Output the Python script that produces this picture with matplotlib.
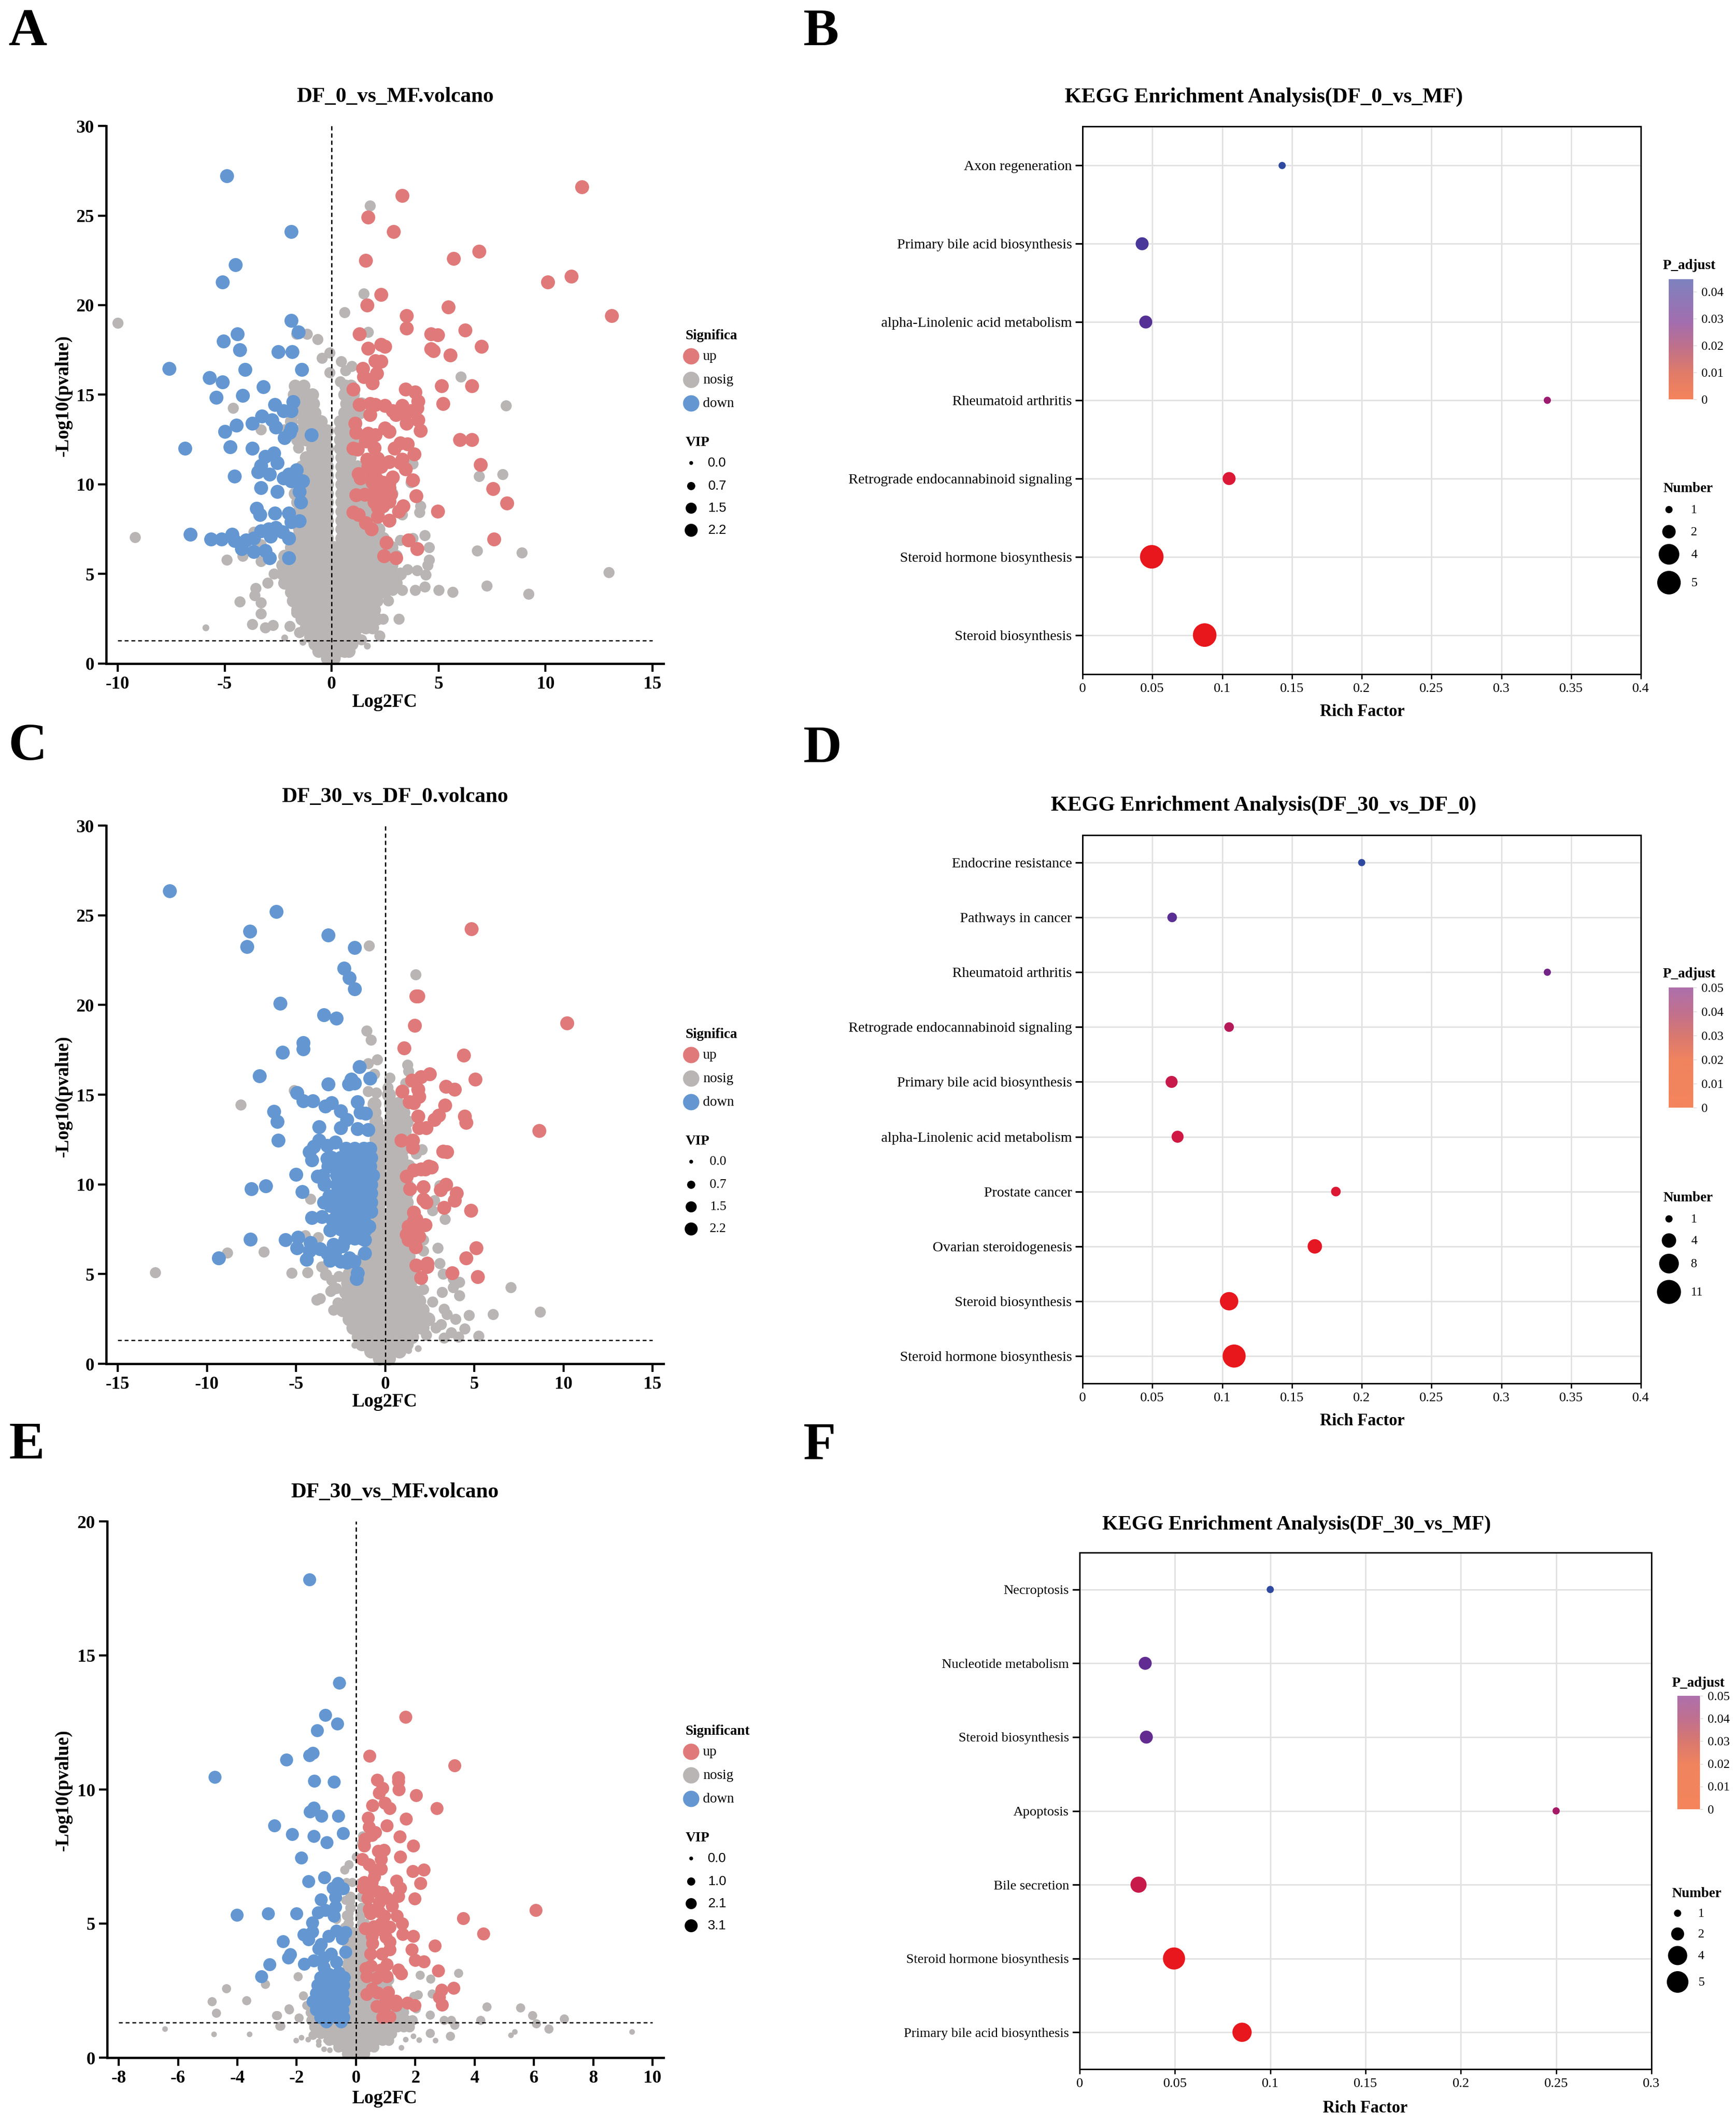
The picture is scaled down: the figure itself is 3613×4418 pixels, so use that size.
import numpy as np
import matplotlib
matplotlib.use('Agg')
import matplotlib.pyplot as plt
from matplotlib.colors import LinearSegmentedColormap

plt.rcParams['font.family'] = ['Liberation Serif', 'DejaVu Serif']
plt.rcParams['axes.unicode_minus'] = False

W, H = 3613, 4418
UP, NOSIG, DOWN = '#E07A7A', '#B9B5B5', '#6497D2'

# ---------- panel A ----------
a_up = [(11.7,26.6),(3.3,26.1),(1.7,24.9),(2.9,24.1),(6.9,23.0),(5.7,22.6),(1.6,22.5),(11.2,21.6),(10.1,21.3),(2.3,20.6),
        (1.65,20.0),(5.45,19.9),(3.5,19.4),(13.1,19.4),(3.5,18.7),(6.25,18.6),(1.3,18.4),(4.65,18.4),(4.95,18.35),(7.0,17.7),
        (2.3,17.8),(2.5,17.7),(1.7,17.6),(4.65,17.55),(4.75,17.45),(5.55,17.2),(2.05,16.9),(2.3,16.85),(1.45,16.45),(2.1,16.2),
        (1.5,16.0),(1.9,15.65),(1.0,15.3),(3.45,15.3),(3.9,15.15),(5.15,15.5),(6.55,15.5),(5.2,14.5),(4.05,14.65),(1.3,14.45),
        (1.8,14.5),(2.05,14.45),(2.5,14.4),(2.85,14.1),(3.3,14.4),(3.0,13.9),(3.45,13.95),(3.7,14.1),(4.0,14.25),(3.5,13.4),
        (4.05,13.6),(4.15,13.0),(1.8,13.9),(1.1,13.4),(2.5,13.15),(2.7,12.95),(1.15,12.9),(1.7,12.85),(2.05,12.75),(1.6,12.4),
        (1.0,12.0),(1.2,11.95),(2.0,12.05),(3.2,12.3),(3.55,12.25),(2.95,12.0),(3.85,11.7),(6.0,12.5),(6.55,12.5),(6.95,11.1),
        (1.65,11.4),(2.15,11.45),(2.7,11.25),(3.3,11.4),(3.45,10.85),(1.9,11.0),(1.25,10.6),(1.35,10.35),(2.0,10.45),(2.85,10.4),
        (3.8,10.25),(1.9,10.1),(2.25,9.8),(2.7,9.8),(7.55,9.75),(1.15,9.4),(1.55,9.45),(2.0,9.55),(2.75,9.45),(3.95,9.35),
        (2.25,9.2),(2.7,9.05),(8.2,8.95),(2.15,8.7),(3.35,8.8),(3.15,8.5),(4.95,8.5),(1.0,8.45),(1.25,8.3),(2.15,8.2),
        (2.7,8.0),(1.6,7.85),(1.85,7.5),(7.6,6.95),(3.6,6.9),(2.55,6.75),(4.0,6.4),(2.45,6.0),(3.0,5.9),(2.0,10.8),
        (2.1,10.3),(2.4,10.1),(2.0,9.0),(2.4,8.8),(2.5,9.4),(2.7,10.1),(3.2,11.2),(1.9,10.5),(2.3,11.0),(1.7,11.0),(2.4,9.9)]
a_down = [(-4.9,27.2),(-1.9,24.1),(-4.5,22.25),(-5.1,21.3),(-1.9,19.15),(-1.55,18.5),(-4.4,18.4),(-5.05,18.0),(-4.3,17.5),(-2.5,17.4),
          (-1.85,17.4),(-7.6,16.45),(-4.05,16.4),(-1.4,16.4),(-5.7,15.95),(-5.1,15.7),(-3.2,15.45),(-5.4,14.85),(-4.15,14.95),(-2.65,14.45),
          (-1.8,14.6),(-2.25,14.1),(-1.9,14.1),(-3.25,13.8),(-2.8,13.6),(-3.7,13.4),(-4.45,13.3),(-2.6,13.2),(-5.0,12.95),(-1.9,13.1),
          (-1.95,12.9),(-0.95,12.75),(-2.2,12.6),(-4.75,12.1),(-3.7,12.0),(-6.85,12.0),(-2.7,11.75),(-3.1,11.55),(-2.55,11.2),(-3.3,11.05),
          (-1.65,10.8),(-3.45,10.7),(-2.9,10.55),(-4.55,10.45),(-2.0,10.55),(-1.9,10.2),(-2.25,10.35),(-1.35,10.2),(-3.3,9.8),(-2.55,9.6),
          (-1.5,9.6),(-1.45,9.0),(-3.5,8.65),(-3.35,8.3),(-2.65,8.4),(-2.0,8.4),(-1.9,7.9),(-1.5,7.95),(-3.3,7.4),(-2.95,7.5),
          (-2.6,7.6),(-2.3,7.35),(-2.85,7.1),(-2.0,7.0),(-6.6,7.2),(-5.65,6.95),(-5.15,6.95),(-4.65,7.2),(-4.55,6.85),(-4.0,6.9),
          (-3.65,7.0),(-4.2,6.4),(-3.65,6.25),(-3.1,6.3),(-2.9,5.9),(-2.0,5.9)]
a_nosig = [(-10,19),(-9.2,7.05),(1.8,25.55),(1.5,20.65),(0.6,19.6),(1.7,18.5),(-1.15,18.4),(-1.65,18.4),(-0.65,18.1),(-0.1,17.35),
           (-0.45,17.05),(-0.1,16.25),(0.45,16.85),(0.95,16.6),(0.65,16.35),(0.4,15.75),(6.05,16.0),(8.15,14.4),(-4.6,14.25),(-3.3,13.05),
           (-1.55,12.05),(8.0,10.55),(6.9,10.45),(3.8,11.15),(3.7,10.1),(4.15,8.8),(4.1,8.45),(3.3,8.3),(4.35,7.15),(3.8,7.0),
           (3.2,6.9),(4.55,6.5),(4.55,5.8),(4.5,5.5),(6.8,6.3),(8.9,6.2),(12.95,5.1),(9.2,3.9),(7.25,4.35),(5.65,4.0),
           (5.0,4.1),(4.35,4.3),(3.9,4.1),(3.3,4.1),(2.85,4.1),(4.4,4.95),(4.0,5.2),(3.55,5.25),(2.65,3.5),(2.4,2.5),
           (3.15,2.5),(2.25,1.55),(1.4,1.35),(-4.9,5.8),(-4.15,6.0),(-3.3,5.7),(-3.65,7.35),(-3.3,6.65),(-2.7,5.0),(-3.55,4.2),
           (-3.0,4.5),(-3.6,3.8),(-4.3,3.45),(-3.3,3.4),(-3.3,2.8),(-1.65,2.85),(-3.7,2.2),(-3.1,2.0),(-2.75,2.15),(-1.95,2.1),(-1.5,1.75)]
a_small = [(-5.9,2.0),(-2.2,1.45),(1.65,1.0),(-1.35,1.2)]
a_cloud = [(0.3,[-0.2,0.1]),
           (0.7,[-0.6,-0.3,0,0.3,0.6,0.8]),
           (1.1,[-0.8,-0.5,-0.2,0.1,0.4,0.7,0.95]),
           (1.5,[-1.0,-0.7,-0.3,0,0.4,0.8,1.1]),
           (2.0,[-1.2,-0.8,-0.4,0,0.4,0.8,1.2,1.6,1.9]),
           (2.5,[-1.4,-1,-0.6,-0.2,0.2,0.6,1,1.4,1.8,2.1]),
           (3.0,[-1.6,-1.2,-0.8,-0.4,0,0.4,0.8,1.2,1.6,2.0]),
           (3.5,[-1.8,-1.4,-1,-0.6,-0.2,0.2,0.6,1,1.4,1.8,2.1]),
           (4.0,[-1.9,-1.5,-1.1,-0.7,-0.3,0.1,0.5,0.9,1.3,1.7,2.1,2.5]),
           (4.5,[-2.2,-1.8,-1.4,-1,-0.6,-0.2,0.2,0.6,1,1.4,1.8,2.2,2.6,3.0]),
           (5.0,[-2.3,-1.9,-1.5,-1.1,-0.7,-0.3,0.1,0.5,0.9,1.3,1.7,2.1,2.5,2.9,3.2]),
           (5.5,[-2.3,-1.9,-1.5,-1.1,-0.7,-0.3,0.1,0.5,0.9,1.3,1.7,2.1,2.4,2.8]),
           (6.0,[-2.2,-1.8,-1.4,-1,-0.6,-0.2,0.2,0.6,1,1.4,1.8,2.2,2.6,3.0]),
           (6.5,[-1.9,-1.5,-1.1,-0.7,-0.3,0.1,0.5,0.9,1.3,1.7,2.1,2.5,2.8]),
           (7.0,[-1.7,-1.3,-0.9,-0.5,-0.2,0.47,0.85,1.2,1.6,2.0,2.4]),
           (7.5,[-1.5,-1.1,-0.7,-0.2,0.47,0.85,1.2,1.6,2.0,2.2]),
           (8.0,[-1.4,-1,-0.6,-0.2,0.47,0.85,1.2,1.6,2.0]),
           (8.5,[-1.5,-1.1,-0.6,-0.2,0.47,0.85,1.2,1.6,2.0,2.2]),
           (9.0,[-1.6,-1.2,-0.8,-0.5,-0.2,0.47,0.85,1.2,1.6,2.0,2.4,2.7]),
           (9.5,[-1.7,-1.3,-0.9,-0.5,-0.2,0.47,0.85,1.2,1.6,2.0,2.4,2.8]),
           (10.0,[-1.6,-1.2,-0.8,-0.5,-0.2,0.47,0.85,1.2,1.6,2.0,2.5]),
           (10.5,[-1.5,-1.1,-0.7,-0.2,0.47,0.85,1.2,1.7]),
           (11.0,[-1.4,-1,-0.6,-0.2,0.47,0.85,1.2]),
           (11.5,[-1.2,-0.8,-0.5,-0.2,0.47,0.85]),
           (12.0,[-0.9,-0.5,-0.2,0.4,0.7]),
           (12.5,[-1.6,-1.2,-0.7,-0.3,0.4,0.7,1.0]),
           (13.0,[-2.2,-1.7,-1.3,-0.9,-0.5,-0.2,0.4,0.7,1.1]),
           (13.5,[-1.9,-1.3,-0.9,-0.5,0.4,0.7,1.1]),
           (14.0,[-1.7,-1.2,-0.8,0.6,1.0,1.3]),
           (14.5,[-1.8,-1.3,-0.85,0.7,1.1,1.4]),
           (15.0,[-1.75,-1.3,-0.9,0.6,1.0]),
           (15.5,[-1.7,-1.3,0.65,0.9])]

# ---------- panel C ----------
c_up = [(4.85,24.25),(10.2,19.0),(1.75,20.5),(1.85,20.5),(1.65,18.85),(1.05,17.6),(4.4,17.2),(5.05,15.85),(2.5,16.15),(2.0,16.0),
        (1.5,15.8),(1.85,15.3),(0.95,15.2),(3.4,15.45),(3.9,15.3),(1.9,14.9),(1.35,14.6),(1.6,14.55),(3.35,14.4),(1.85,13.8),
        (3.0,13.85),(2.75,13.6),(4.45,13.8),(4.55,13.45),(1.9,13.15),(2.3,13.15),(8.65,13.0),(0.9,12.45),(1.55,12.45),(1.55,12.05),
        (3.25,11.85),(3.45,11.8),(2.6,10.95),(2.45,11.0),(2.0,10.85),(1.6,10.8),(2.25,10.85),(1.2,10.45),(3.4,10.0),(3.1,9.7),
        (1.4,9.75),(2.15,9.85),(4.0,9.5),(3.9,9.1),(2.15,9.15),(2.3,9.0),(3.3,8.7),(4.8,8.55),(1.6,8.45),(1.75,8.05),
        (2.25,7.75),(1.3,7.65),(1.6,7.55),(1.3,7.3),(1.9,7.1),(1.3,6.9),(1.7,6.5),(5.1,6.45),(4.55,5.9),(1.75,5.5),
        (2.35,5.6),(2.35,5.4),(3.75,5.05),(2.0,4.8),(5.2,4.85),(1.6,7.95),(1.2,7.2)]
c_down = [(-12.1,26.35),(-6.1,25.2),(-7.6,24.1),(-7.75,23.25),(-3.2,23.9),(-1.7,23.2),(-2.3,22.05),(-2.0,21.5),(-1.7,20.9),(-5.9,20.1),
          (-3.45,19.45),(-2.75,19.25),(-4.6,17.9),(-4.6,17.55),(-5.75,17.35),(-1.45,16.55),(-7.05,16.05),(-1.9,15.85),(-2.05,15.6),(-1.7,15.65),
          (-0.85,15.9),(-3.2,15.6),(-4.95,15.1),(-4.6,14.65),(-4.05,14.65),(-3.0,14.55),(-3.35,14.35),(-1.55,14.6),(-2.5,14.1),(-6.25,14.05),
          (-6.05,13.5),(-1.4,14.0),(-1.1,13.95),(-2.15,13.6),(-3.7,13.2),(-2.5,13.15),(-1.55,13.1),(-0.95,13.05),(-6.0,12.45),(-3.7,12.45),
          (-2.8,12.35),(-3.25,12.15),(-4.0,12.1),(-4.25,11.8),(-4.1,11.35),(-3.25,11.45),(-5.0,10.55),(-3.8,10.45),(-3.5,10.5),(-3.4,10.1),
          (-6.7,9.9),(-7.5,9.75),(-4.65,9.6),(-3.15,9.35),(-3.45,9.0),(-3.1,8.8),(-4.1,8.15),(-3.55,8.2),(-2.95,8.0),(-3.1,7.45),
          (-0.8,8.5),(-0.9,7.65),(-1.15,6.9),(-1.15,6.15),(-7.55,6.95),(-5.6,6.9),(-4.9,7.05),(-4.95,6.45),(-4.2,6.75),(-4.25,6.3),
          (-3.65,6.4),(-2.9,6.65),(-3.25,6.15),(-4.4,5.8),(-3.1,5.75),(-2.5,5.7),(-2.0,5.9),(-1.75,5.7),(-2.15,5.65),(-9.35,5.9),
          (-1.55,5.05),(-1.6,4.75),(-2.25,6.9),(-1.95,7.3),(-2.4,6.55),(-2.8,6.3)]
c_down_cloud = [(12.0,[-2.2,-1.7,-1.2,-0.85]),
                (11.5,[-3.0,-2.5,-2,-1.5,-1,-0.8]),
                (11.0,[-3.2,-2.7,-2.2,-1.7,-1.2,-0.85]),
                (10.5,[-2.7,-2.2,-1.7,-1.2,-0.7]),
                (10.0,[-3.4,-2.7,-2.2,-1.7,-1.2,-0.8]),
                (9.5,[-2.7,-2.2,-1.7,-1.2,-0.8]),
                (9.0,[-3.3,-2.7,-2.2,-1.7,-1.2,-0.8]),
                (8.5,[-2.7,-2.2,-1.7,-1.2,-0.8]),
                (8.0,[-2.7,-2.2,-1.7,-1.2]),
                (7.5,[-2.5,-2,-1.5,-1.1]),
                (7.0,[-2.2,-1.7,-1.3])]
c_nosig = [(-0.9,23.3),(1.7,21.7),(-1.05,18.55),(-0.8,18.05),(-0.45,16.95),(-0.95,16.75),(-0.6,16.15),(0.25,15.95),(1.25,16.65),(1.3,16.3),
           (1.15,15.65),(-5.1,15.25),(-8.1,14.45),(-0.95,15.2),(-0.5,15.1),(0.15,15.4),(2.05,11.95),(1.75,11.7),(3.05,9.95),(2.75,9.1),
           (2.65,8.55),(3.35,8.05),(-4.2,9.2),(-4.5,7.15),(-3.75,7.05),(-8.85,6.2),(-6.8,6.25),(-12.9,5.1),(-5.25,5.05),(-4.35,5.1),
           (-3.5,5.4),(-3.35,4.95),(-3.05,4.05),(-3.65,3.65),(-3.85,3.55),(-2.9,3.0),(-2.65,3.4),(2.15,6.9),(2.15,6.3),(2.95,6.45),
           (3.05,5.6),(3.25,5.0),(3.8,4.75),(4.15,4.55),(3.8,4.25),(3.2,4.0),(4.15,3.8),(7.05,4.25),(8.7,2.9),(6.05,2.75),
           (4.7,2.7),(5.25,1.55),(4.45,1.95),(3.95,2.5),(4.1,1.5),(2.65,3.45),(3.3,3.05),(3.45,2.75),(3.15,2.2),(3.3,1.45),
           (2.3,1.6),(2.85,2.0),(3.7,1.75),(2.15,4.15),(-3.58,5.4),(-3.3,4.97),(-3.0,4.65),(-2.6,4.87),(-3.0,4.1),(-2.75,4.2)]
c_small = [(-1.7,1.05),(1.85,0.85),(1.3,0.75)]
c_cloud = [(0.3,[-0.3,0.2]),
           (0.7,[-0.8,-0.4,0,0.4,0.8]),
           (1.1,[-1.3,-0.8,-0.4,0,0.4,0.8,1.2]),
           (1.5,[-1.5,-1,-0.5,0,0.5,1,1.5]),
           (2.0,[-1.8,-1.3,-0.8,-0.3,0.2,0.7,1.2,1.7,2.1]),
           (2.5,[-2,-1.5,-1,-0.5,0,0.5,1,1.5,2,2.4]),
           (3.0,[-2.4,-1.9,-1.4,-0.9,-0.4,0.1,0.6,1.1,1.6,2.1]),
           (3.5,[-2.1,-1.6,-1.1,-0.6,-0.1,0.4,0.9,1.4,1.9]),
           (4.0,[-2.2,-1.7,-1.2,-0.7,-0.2,0.3,0.8,1.3,1.7]),
           (4.5,[-2.1,-1.6,-1.1,-0.6,-0.1,0.4,0.9,1.4]),
           (5.0,[-2.0,-1.5,-1,-0.5,0,0.5,1,1.4]),
           (5.5,[-1.2,-0.7,-0.2,0.3,0.8,1.3]),
           (6.0,[-1.2,-0.7,-0.2,0.3,0.8,1.3]),
           (6.5,[-0.8,-0.3,0.3,0.8,1.3]),
           (7.0,[-0.7,-0.3,0.3,0.8,1.3]),
           (7.5,[-0.6,-0.3,0.35,0.8,1.2]),
           (8.0,[-0.6,-0.3,0.35,0.8,1.2]),
           (8.5,[-0.6,-0.3,0.35,0.8,1.2]),
           (9.0,[-0.6,-0.3,0.35,0.8,1.2]),
           (9.5,[-0.6,-0.3,0.35,0.8,1.2]),
           (10.0,[-0.6,-0.3,0.35,0.8,1.2]),
           (10.5,[-0.6,-0.25,0.35,0.8,1.1]),
           (11.0,[-0.5,-0.25,0.4,0.8,1.3]),
           (11.5,[-0.6,-0.25,0.4,0.9]),
           (12.0,[-0.5,-0.25,0.35,0.7,1.0]),
           (12.5,[-0.5,-0.2,0.4,0.8,1.2]),
           (13.0,[-0.5,-0.2,0.35,0.8,1.1]),
           (13.5,[-0.5,0.3,0.8,1.2]),
           (14.0,[-0.6,0.4,1.0]),
           (14.5,[-0.6,0.3,0.7]),
           (15.0,[0.2])]

# ---------- panel E ----------
e_up = [(1.67,12.7),(3.33,10.9),(0.46,11.25),(1.43,10.45),(1.42,10.3),(1.45,10.0),(0.72,10.35),(0.9,10.05),(0.78,9.87),(2.03,9.78),
        (0.97,9.5),(0.56,9.4),(1.14,9.3),(2.73,9.3),(0.4,8.95),(1.69,8.9),(1.04,8.65),(0.44,8.6),(0.65,8.4),(0.53,8.3),
        (1.48,8.25),(0.3,8.15),(0.27,7.9),(1.93,7.9),(0.94,7.75),(0.75,7.7),(1.5,7.5),(0.84,7.4),(0.22,7.4),(0.44,7.2),
        (2.29,7.0),(0.84,7.05),(0.61,7.0),(1.91,6.95),(0.61,6.75),(2.18,6.5),(1.37,6.6),(0.27,6.55),(0.53,6.55),(0.24,6.35),
        (0.53,6.33),(1.5,6.33),(0.9,6.17),(1.42,6.03),(0.39,5.95),(1.04,5.95),(1.98,5.93),(0.78,5.78),(1.21,5.67),(0.44,5.53),
        (6.06,5.5),(0.78,5.45),(0.96,5.28),(1.38,5.28),(0.48,5.37),(3.62,5.2),(1.55,5.0),(1.13,4.87),(0.78,4.78),(0.31,4.82),
        (4.3,4.63),(1.57,4.6),(1.93,4.53),(0.53,4.53),(1.14,4.32),(0.56,4.27),(2.66,4.18),(1.88,4.03),(1.13,4.03),(0.48,3.87),
        (0.87,3.87),(2.0,3.63),(2.29,3.58),(1.04,3.48),(0.5,3.43),(0.32,3.33),(1.43,3.28),(2.78,3.25),(1.52,3.13),(0.84,3.28),
        (0.36,3.03),(1.04,3.03),(0.7,2.98),(3.29,2.6),(2.88,2.53),(0.53,2.57),(1.08,2.43),(0.73,2.42),(0.36,2.37),(2.8,2.25),
        (1.35,2.12),(1.74,2.05),(0.99,2.07),(2.9,1.98),(1.98,1.95),(1.35,1.95),(0.7,1.92),(0.96,1.87),(1.13,1.53),(0.9,1.5),
        (0.85,5.0),(1.0,4.5),(0.6,4.9),(0.7,6.2)]
e_down = [(-1.57,17.83),(-0.56,13.97),(-1.04,12.77),(-0.63,12.45),(-1.31,12.2),(-1.45,11.37),(-1.57,11.27),(-2.34,11.12),(-4.76,10.47),(-1.4,10.33),
          (-0.75,10.28),(-1.43,9.32),(-1.55,9.17),(-1.16,9.02),(-0.6,9.02),(-2.75,8.65),(-2.15,8.33),(-1.43,8.27),(-0.44,8.37),(-0.99,8.02),
          (-1.84,7.45),(-1.06,6.72),(-1.6,6.58),(-0.61,6.5),(-0.78,6.33),(-0.44,6.3),(-0.7,5.98),(-1.18,5.9),(-0.7,5.62),(-4.01,5.32),
          (-2.97,5.37),(-2.0,5.37),(-1.28,5.42),(-1.04,5.5),(-0.75,5.28),(-1.47,5.03),(-0.36,4.67),(-0.67,4.73),(-0.92,4.53),(-1.48,4.7),
          (-1.76,4.58),(-1.6,4.4),(-0.46,4.45),(-2.46,4.33),(-1.18,4.23),(-1.26,4.07),(-2.22,3.85),(-0.36,3.95),(-2.29,3.72),(-0.84,3.87),
          (-1.09,3.73),(-1.43,3.62),(-1.74,3.5),(-2.92,3.48),(-0.67,3.57),(-1.09,3.37),(-0.58,3.17),(-0.92,3.12),(-3.19,3.02)]
e_down_cloud = [(3.0,[-1.2,-0.9,-0.6,-0.4]),
                (2.7,[-1.3,-1.0,-0.7,-0.42]),
                (2.4,[-1.35,-1.05,-0.75,-0.45]),
                (2.1,[-1.45,-1.15,-0.85,-0.55,-0.4]),
                (1.8,[-1.35,-1.05,-0.75,-0.45]),
                (1.5,[-1.2,-0.9,-0.65,-0.42]),
                (1.35,[-1.0,-0.5])]
e_nosig = [(-4.37,2.58),(-4.86,2.1),(-3.7,2.14),(-4.72,1.67),(-2.66,1.57),(-2.25,1.8),(-1.92,1.48),(-2.54,1.18),(-3.06,2.74),(-1.96,3.03),
           (-1.78,2.32),(-1.67,1.95),(-1.56,1.68),(-1.45,0.85),(2.15,3.09),(2.51,2.94),(3.45,3.15),(2.09,2.34),(1.95,2.3),(2.56,2.38),
           (2.02,1.83),(2.49,1.6),(2.96,1.4),(3.21,1.39),(3.32,1.21),(4.19,1.4),(4.41,1.9),(5.55,1.86),(2.49,0.91),(3.18,0.8),
           (5.94,1.57),(6.07,1.27),(6.5,1.08),(7.01,1.45),(0,7.5),(-0.24,7.2),(-0.38,7.0),(-0.12,6.55),(-0.32,6.55),(-0.36,5.87),
           (-0.2,5.83),(-0.24,5.37),(-0.24,5.2),(-0.67,5.17),(-0.38,4.87),(-0.44,4.37),(0.22,8.28),(-2.27,1.82),(-2.68,1.57),(-2.58,1.18)]
e_small = [(-4.8,0.88),(-3.6,0.88),(-1.85,0.76),(-2.03,0.64),(-1.62,0.68),(-1.26,0.61),(-1.02,0.64),(-1.26,0.49),(-1.09,0.33),(-0.89,0.29),
           (1.93,0.81),(1.67,0.68),(2.13,0.66),(2.67,0.64),(1.53,0.38),(5.35,0.97),(5.22,0.85),(9.3,0.97),(-6.45,1.07)]
e_cloud = [(0.15,[-0.3,-0.1,0.1,0.3]),
           (0.4,[-0.6,-0.4,-0.2,0,0.2,0.4,0.6]),
           (0.65,[-0.9,-0.7,-0.5,-0.3,-0.1,0.1,0.3,0.5,0.7,0.9,1.1]),
           (0.9,[-1.2,-1,-0.8,-0.6,-0.4,-0.2,0,0.2,0.4,0.6,0.8,1,1.2]),
           (1.15,[-1.4,-1.2,-1,-0.8,-0.6,-0.4,-0.2,0,0.2,0.4,0.6,0.8,1,1.2,1.4,1.6,1.8]),
           (1.4,[-1.5,-1.3,-1.1,-0.9,-0.7,-0.5,-0.3,-0.1,0.1,0.3,0.5,0.7,0.9,1.1,1.3,1.5,1.7,1.9]),
           (1.7,[-0.4,-0.2,0,0.2,0.4,0.6,0.8,1,1.2,1.4,1.6]),
           (2.0,[-0.4,-0.2,0,0.2,0.4,0.6,0.8,1.0,1.2,1.4]),
           (2.3,[-0.35,-0.15,0.05,0.25,0.45,0.65,0.85,1.05]),
           (2.6,[-0.35,-0.15,0.05,0.25,0.45,0.65,0.85,1.05]),
           (2.9,[-0.35,-0.15,0.05,0.25,0.45,0.65,0.85,1.1]),
           (3.2,[-0.35,-0.15,0.05,0.25,0.45]),
           (3.5,[-0.3,-0.1,0.1,0.3]),
           (3.8,[-0.3,-0.1,0.1,0.3]),
           (4.1,[-0.3,-0.1,0.12,0.3]),
           (4.4,[-0.35,-0.15,0.15,0.3]),
           (4.7,[-0.3,-0.15,0.15,0.3]),
           (5.0,[-0.25,0.2,0.3]),
           (5.3,[-0.3,0.15]),
           (5.6,[-0.2,0.2]),
           (6.0,[-0.2,0.2]),
           (6.5,[0.15]),
           (8.0,[0.2])]

# ---------- KEGG panels ----------
b_terms = ['Axon regeneration', 'Primary bile acid biosynthesis', 'alpha-Linolenic acid metabolism', 'Rheumatoid arthritis',
           'Retrograde endocannabinoid signaling', 'Steroid hormone biosynthesis', 'Steroid biosynthesis']
b_rich = [0.143, 0.0427, 0.0453, 0.333, 0.105, 0.0496, 0.0875]
b_p = [0.047, 0.041, 0.038, 0.021, 0.006, 0.0005, 0.0003]
b_num = [1, 2, 2, 1, 2, 5, 5]

d_terms = ['Endocrine resistance', 'Pathways in cancer', 'Rheumatoid arthritis', 'Retrograde endocannabinoid signaling',
           'Primary bile acid biosynthesis', 'alpha-Linolenic acid metabolism', 'Prostate cancer', 'Ovarian steroidogenesis',
           'Steroid biosynthesis', 'Steroid hormone biosynthesis']
d_rich = [0.2, 0.0642, 0.333, 0.105, 0.0638, 0.0681, 0.1815, 0.1664, 0.105, 0.1086]
d_p = [0.05, 0.039, 0.032, 0.016, 0.012, 0.01, 0.006, 0.002, 0.0004, 0.0001]
d_num = [1, 2, 1, 2, 3, 3, 2, 4, 7, 11]

f_terms = ['Necroptosis', 'Nucleotide metabolism', 'Steroid biosynthesis', 'Apoptosis', 'Bile secretion',
           'Steroid hormone biosynthesis', 'Primary bile acid biosynthesis']
f_rich = [0.1, 0.0344, 0.035, 0.25, 0.0309, 0.0495, 0.0852]
f_p = [0.05, 0.037, 0.036, 0.02, 0.012, 0.0004, 0.0004]
f_num = [1, 2, 2, 1, 3, 5, 4]

rich_ticks_04 = [0, 0.05, 0.1, 0.15, 0.2, 0.25, 0.3, 0.35, 0.4]
rich_ticks_03 = [0, 0.05, 0.1, 0.15, 0.2, 0.25, 0.3]

point_cmap = LinearSegmentedColormap.from_list('padj', [(0, '#E8171B'), (0.15, '#D9183A'), (0.45, '#9B1A70'),
                                                        (0.7, '#66298F'), (0.85, '#4F3499'), (1, '#2F49A0')])
bar_cmap_b = LinearSegmentedColormap.from_list('bar_b', [(0, '#F4845C'), (0.21, '#E27C68'), (0.43, '#C0718A'),
                                                         (0.64, '#A36EAF'), (1, '#7E82BF')])
bar_cmap_d = LinearSegmentedColormap.from_list('bar_d', [(0, '#F4845C'), (0.4, '#F0845F'), (0.6, '#D87870'),
                                                         (0.8, '#C0708F'), (1, '#AD70AC')])

fig = plt.figure(figsize=(W / 100, H / 100), dpi=100, facecolor='white')
ov = fig.add_axes([0, 0, 1, 1], zorder=10)
ov.set_xlim(0, W)
ov.set_ylim(H, 0)
ov.axis('off')


def px_axes(left, top, right, bottom):
    return fig.add_axes([left / W, 1 - bottom / H, (right - left) / W, (bottom - top) / H])


def dia(d):
    # marker diameter in pixels to scatter size
    return (d * 0.72) ** 2


def expand(rows):
    return [(x, y) for y, xs in rows for x in xs]


def put(x, y, s, size, bold=False, ha='left', **kw):
    # text sat about 3 px high against the reference
    ov.text(x, y + 3, s, fontsize=size, fontweight='bold' if bold else 'normal', ha=ha, va='center', **kw)


def volcano(box, xlim, xticks, ylim, yticks, xspan, title, title_y, nosig, cloud, up, down, small, xlab_y, ylab_y, grey_d, cloud_d, big_d):
    ax = px_axes(*box)
    ax.set_xlim(*xlim)
    ax.set_ylim(*ylim)
    for pts, c, d, z in [(small, NOSIG, grey_d * 0.62, 2), (nosig, NOSIG, grey_d, 2), (cloud, NOSIG, cloud_d, 2),
                         (up, UP, big_d, 3), (down, DOWN, big_d, 3)]:
        p = np.array(pts)
        ax.scatter(p[:, 0], p[:, 1], s=dia(d), c=c, linewidths=0, zorder=z, clip_on=False)
    ax.axvline(0, color='black', lw=2, dashes=(3.2, 2.2), zorder=4)
    ax.plot(xspan, [1.3, 1.3], color='black', lw=1.8, dashes=(3.2, 2.4), zorder=4)
    for side in ['top', 'right']:
        ax.spines[side].set_visible(False)
    for side in ['left', 'bottom']:
        ax.spines[side].set_linewidth(3.4)
    ax.set_xticks(xticks)
    ax.set_yticks(yticks)
    ax.tick_params(width=3.2, length=12, labelsize=27, pad=6)
    for lab in ax.get_xticklabels() + ax.get_yticklabels():
        lab.set_fontweight('bold')
    put(822, title_y, title, 32, bold=True, ha='center')
    put(800, xlab_y, 'Log2FC', 28, bold=True, ha='center')
    put(132, ylab_y, '-Log10(pvalue)', 28, bold=True, ha='center', rotation=90)
    return ax


def volcano_legend(dy, sig_title, vip_labels, vip_family):
    put(1426, 695 + dy, sig_title, 21, bold=True)
    for lab, c, y in [('up', UP, 741), ('nosig', NOSIG, 790), ('down', DOWN, 839)]:
        ov.scatter([1438], [y + dy], s=dia(34), c=c, linewidths=0)
        put(1463, y + dy - 2, lab, 21)
    put(1427, 917 + dy, 'VIP', 21, bold=True)
    for lab, d, y in zip(vip_labels, [8, 17, 23, 27], [963, 1011, 1057, 1103]):
        ov.scatter([1438], [y + dy], s=dia(d), c='black', linewidths=0)
        put(1512, y + dy - 2, lab, 20, ha='right', family=vip_family)


def kegg(box, terms, rich, p, num, xticks, sizes, pmax, title, title_x, title_y, xlab_x, xlab_y, term_size=21.7, title_size=32):
    ax = px_axes(*box)
    ax.set_xlim(xticks[0], xticks[-1])
    ax.set_ylim(len(terms) - 0.5, -0.5)
    ax.grid(True, color='#E2E2E2', lw=2.2, zorder=0)
    ax.set_axisbelow(True)
    ds = np.interp(num, sizes[0], sizes[1])
    ax.scatter(rich, range(len(terms)), s=dia(ds), c=np.array(p) / pmax, cmap=point_cmap, vmin=0, vmax=1, linewidths=0, zorder=3)
    for side in ax.spines.values():
        side.set_linewidth(2.2)
    ax.set_xticks(xticks)
    ax.set_xticklabels([f'{t:g}' for t in xticks])
    ax.set_yticks(range(len(terms)))
    ax.set_yticklabels(terms)
    ax.tick_params(axis='y', width=2.4, length=11, labelsize=term_size, pad=5)
    ax.tick_params(axis='x', width=2.0, length=7, labelsize=20.5, pad=6)
    put(title_x, title_y, title, title_size, bold=True, ha='center')
    put(xlab_x, xlab_y, 'Rich Factor', 25, bold=True, ha='center')


def kegg_legend(bar_box, pmax, bar_ticks, cmap, p_title_xy, num_title_xy, num_x, num_text_x, entries):
    put(*p_title_xy, 'P_adjust', 21, bold=True)
    cb = px_axes(*bar_box)
    cb.imshow(np.linspace(1, 0, 256)[:, None], aspect='auto', cmap=cmap, extent=[0, 1, 0, pmax])
    cb.set_xticks([])
    cb.yaxis.tick_right()
    cb.set_yticks(bar_ticks)
    cb.set_yticklabels([f'{t:g}' for t in bar_ticks])
    cb.tick_params(axis='y', length=5, width=1, color='#D8D8D8', labelsize=19, pad=7)
    for side in cb.spines.values():
        side.set_visible(False)
    put(*num_title_xy, 'Number', 21, bold=True)
    for lab, d, y in entries:
        ov.scatter([num_x], [y], s=dia(d), c='black', linewidths=0)
        put(num_text_x, y - 1, lab, 19)


# volcano panels
volcano((221, 262, 1381, 1381), (-10.54, 15.52), [-10, -5, 0, 5, 10, 15], (0, 30), [0, 5, 10, 15, 20, 25, 30], [-10, 15],
        'DF_0_vs_MF.volcano', 198, a_nosig, expand(a_cloud), a_up, a_down, a_small, 1459, 821, 23, 27, 29)
volcano((221, 1718, 1381, 2838), (-15.65, 15.62), [-15, -10, -5, 0, 5, 10, 15], (0, 30), [0, 5, 10, 15, 20, 25, 30], [-15, 15],
        'DF_30_vs_DF_0.volcano', 1655, c_nosig, expand(c_cloud), c_up, c_down + expand(c_down_cloud), c_small, 2915, 2278, 23, 29, 29)
volcano((223, 3166, 1381, 4282), (-8.39, 10.37), [-8, -6, -4, -2, 0, 2, 4, 6, 8, 10], (0, 20), [0, 5, 10, 15, 20], [-8, 10],
        'DF_30_vs_MF.volcano', 3102, e_nosig, expand(e_cloud), e_up, e_down + expand(e_down_cloud), e_small, 4364, 3722, 19, 22, 27)

volcano_legend(0, 'Significa', ['0.0', '0.7', '1.5', '2.2'], 'Liberation Sans')
volcano_legend(1454, 'Significa', ['0.0', '0.7', '1.5', '2.2'], 'Liberation Serif')
volcano_legend(2904, 'Significant', ['0.0', '1.0', '2.1', '3.1'], 'Liberation Sans')

# KEGG panels
kegg((2253, 263, 3415, 1403), b_terms, b_rich, b_p, b_num, rich_ticks_04, ([1, 2, 4, 5], [15, 27, 44, 49]), 0.047,
     'KEGG Enrichment Analysis(DF_0_vs_MF)', 2630, 199, 2835, 1479)
kegg((2253, 1738, 3415, 2879), d_terms, d_rich, d_p, d_num, rich_ticks_04, ([1, 4, 8, 11], [15, 30, 41, 48]), 0.05,
     'KEGG Enrichment Analysis(DF_30_vs_DF_0)', 2630, 1673, 2835, 2955)
kegg((2247, 3231, 3437, 4306), f_terms, f_rich, f_p, f_num, rich_ticks_03, ([1, 2, 4, 5], [15, 27, 40, 46]), 0.05,
     'KEGG Enrichment Analysis(DF_30_vs_MF)', 2699, 3170, 2841, 4384, term_size=20.5, title_size=30.5)

kegg_legend((3473, 581, 3524, 831), 0.0447, [0, 0.01, 0.02, 0.03, 0.04], bar_cmap_b, (3461, 549), (3461, 1013), 3473, 3519,
            [('1', 15, 1060), ('2', 28, 1106), ('4', 43, 1153), ('5', 49, 1212)])
kegg_legend((3473, 2055, 3524, 2305), 0.05, [0, 0.01, 0.02, 0.03, 0.04, 0.05], bar_cmap_d, (3461, 2023), (3461, 2489), 3473, 3519,
            [('1', 15, 2536), ('4', 30, 2581), ('8', 41, 2629), ('11', 50, 2688)])
kegg_legend((3491, 3529, 3537, 3765), 0.05, [0, 0.01, 0.02, 0.03, 0.04, 0.05], bar_cmap_d, (3480, 3499), (3480, 3937), 3491, 3534,
            [('1', 15, 3981), ('2', 27, 4024), ('4', 40, 4069), ('5', 45, 4124)])

# panel letters
for letter, x, y in [('A', 18, 64), ('B', 1671, 64), ('C', 18, 1551), ('D', 1671, 1556), ('E', 18, 3005), ('F', 1671, 3007)]:
    put(x, y, letter, 80, bold=True)

fig.savefig('out.png', dpi=100, facecolor='white')
